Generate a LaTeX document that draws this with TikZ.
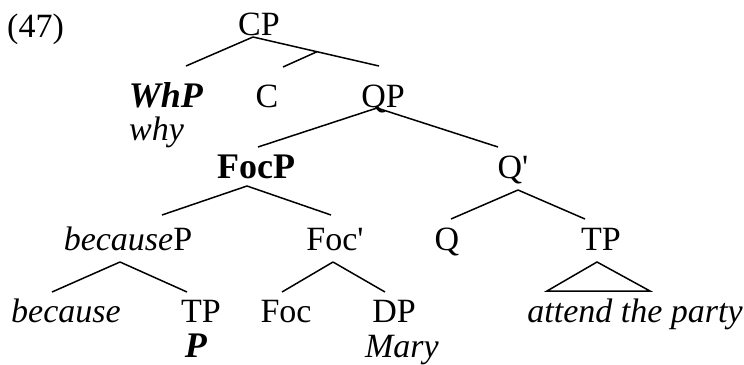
\documentclass[tikz,border=0pt]{standalone}
\usepackage{fontspec}
\setmainfont{Liberation Serif}
\usepackage{tikz}
\usetikzlibrary{calc}

\tikzset{
  lbl/.style={anchor=base, inner sep=0pt, font=\fontsize{34}{38}\selectfont},
  boldlbl/.style={lbl, font=\fontsize{36}{40}\selectfont\bfseries},
  branch/.style={line width=1.5pt}
}

\begin{document}
\begin{tikzpicture}[x=1pt, y=-1pt]
    \useasboundingbox (0,0) rectangle (744,364);
    \node[lbl, anchor=base west] (ex) at (7,37) {(47)};
    % tree labels, placed at their baselines
    \node[lbl] (cp)     at (259,35)  {CP};
    \node[boldlbl] (whp) at (166,107) {\textit{WhP}};
    \node[lbl] (c)      at (267,107) {C};
    \node[lbl] (qp)     at (383,107) {QP};
    \node[lbl, anchor=base west] (why) at (129,140) {\textit{why}};
    \node[boldlbl] (focp) at (256,178) {FocP};
    \node[lbl] (qbar)   at (513,178) {Q\textquotesingle};
    \node[lbl] (becp)   at (128,250) {\textit{because}P};
    \node[lbl] (focbar) at (335,250) {Foc\textquotesingle};
    \node[lbl] (q)      at (447,250) {Q};
    \node[lbl] (tpr)    at (601,250) {TP};
    \node[lbl] (because) at (66,322) {\textit{because}};
    \node[lbl] (tpl)    at (201,322) {TP};
    \node[lbl] (foc)    at (286,322) {Foc};
    \node[lbl] (dp)     at (394,322) {DP};
    \node[lbl] (party)  at (635,322) {\textit{attend the party}};
    \node[boldlbl] (p)  at (196,357) {\textit{P}};
    \node[lbl] (mary)   at (402,357) {\textit{Mary}};
    % branches: parent/start shift/child/end shift
    \draw[branch] ([shift={(-6,2)}]cp.base) -- ([shift={(-4,-41)}]qp.base)
        coordinate[pos=0.508] (cjoin);
    \draw[branch] (cjoin) -- ([shift={(16,-40)}]c.base);
    \foreach \a/\sx/\sy/\b/\ex/\ey in {cp/-6/2/whp/20/-41,
                                       qp/-6/1/focp/2/-31, qp/-6/1/qbar/-15/-31,
                                       focp/-9/8/becp/34/-35, focp/-9/8/focbar/-4/-35,
                                       qbar/5/12/q/4/-31, qbar/5/12/tpr/-16/-31,
                                       becp/-8/12/because/-14/-30, becp/-8/12/tpl/-14/-30,
                                       focbar/-2/12/foc/-4/-30, focbar/-2/12/dp/-9/-30} {
      \draw[branch] ([shift={(\sx,\sy)}]\a.base) -- ([shift={(\ex,\ey)}]\b.base);
    }
    \draw[branch] ([shift={(-4,12)}]tpr.base) -- ([shift={(-88,-31)}]party.base)
        -- ([shift={(15,-31)}]party.base) -- cycle;
\end{tikzpicture}
\end{document}
